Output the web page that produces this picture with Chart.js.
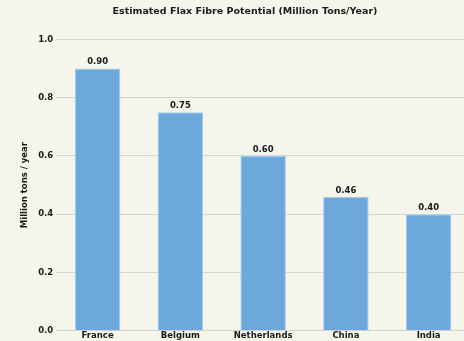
<!DOCTYPE html>
<html>
<head>
<meta charset="utf-8">
<script src="https://cdn.jsdelivr.net/npm/chart.js@4"></script>
<style>
  html, body { margin: 0; padding: 0; background: #f5f5eb; overflow: hidden; }
  #wrap { width: 526px; height: 341px; }
</style>
</head>
<body>
<div id="wrap"><canvas id="chart" width="526" height="341"></canvas></div>
<script>
// Data
const countries = ['France', 'Belgium', 'Netherlands', 'China', 'India'];
const potential = [0.90, 0.75, 0.60, 0.46, 0.40];
const yTicks = [0.0, 0.2, 0.4, 0.6, 0.8, 1.0];

const textColor = '#1a1a1a';
const font = 'DejaVu Sans';

// Draws the value above each bar
const valueLabels = {
    id: 'valueLabels',
    afterDatasetsDraw(chart) {
        const ctx = chart.ctx;
        const meta = chart.getDatasetMeta(0);
        ctx.save();
        ctx.font = `bold 8.5px "${font}"`;
        ctx.fillStyle = textColor;
        ctx.textAlign = 'center';
        ctx.textBaseline = 'bottom';
        meta.data.forEach((bar, i) => {
            ctx.fillText(potential[i].toFixed(2), bar.x, bar.y - 2);
        });
        ctx.restore();
    }
};

new Chart(document.getElementById('chart'), {
    type: 'bar',
    data: {
        labels: countries,
        datasets: [{
            data: potential,
            backgroundColor: '#6ca8dc',
            borderColor: '#a9cdee',
            borderWidth: 1,
            categoryPercentage: 1.0,
            barPercentage: 0.55
        }]
    },
    plugins: [valueLabels],
    options: {
        responsive: false,
        animation: false,
        layout: { padding: { left: 20, right: 56, top: 0, bottom: 0 } },
        plugins: {
            legend: { display: false },
            tooltip: { enabled: false },
            title: {
                display: true,
                text: 'Estimated Flax Fibre Potential (Million Tons/Year)',
                color: textColor,
                font: { family: font, size: 9.5, weight: 'bold' },
                padding: { top: 6, bottom: 22 }
            }
        },
        scales: {
            x: {
                grid: { display: false, drawTicks: false },
                border: { display: false },
                ticks: {
                    color: textColor,
                    font: { family: font, size: 8.5, weight: 'bold' },
                    padding: 0,
                    maxRotation: 0
                }
            },
            y: {
                min: 0,
                max: 1.0,
                afterBuildTicks: (axis) => {
                    axis.ticks = yTicks.map(v => ({ value: v }));
                },
                grid: { color: '#d4d4d0', lineWidth: 1, drawTicks: false },
                border: { display: false },
                ticks: {
                    color: textColor,
                    font: { family: font, size: 8.5, weight: 'bold' },
                    padding: 3,
                    callback: (v) => Number(v).toFixed(1)
                },
                title: {
                    display: true,
                    text: 'Million tons / year',
                    color: textColor,
                    font: { family: font, size: 8.5, weight: 'bold' },
                    padding: { top: 0, bottom: 5 }
                }
            }
        }
    }
});
</script>
</body>
</html>
